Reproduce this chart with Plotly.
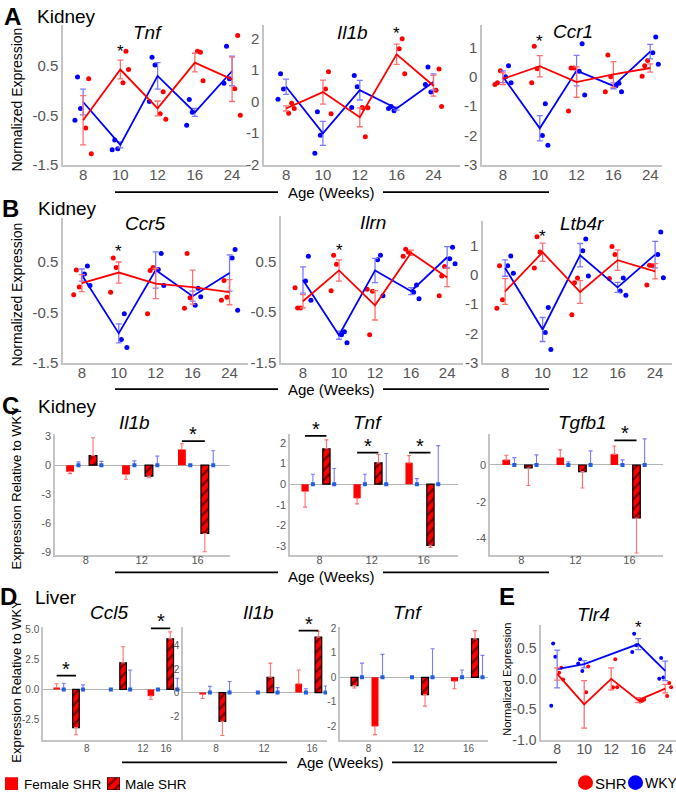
import plotly.graph_objects as go

W, H = 676, 800
RED = '#ff0000'
BLUE = '#0000ff'
RED_ERR = '#ff6f6f'
BLUE_ERR = '#7a7aff'
AXC = '#c4c4c4'
TICKC = '#555555'
FONT = 'Liberation Sans, Arial, sans-serif'

ages_line = ['8', '10', '12', '16', '24']
ages_bar = ['8', '12', '16']

# ---------------- Panel A (Kidney, normalized expression) ----------------
a_tnf_shr_mean = [-0.60, 0.43, -0.36, 0.57, 0.23]
a_tnf_shr_sem = [0.50, 0.19, 0.15, 0.19, 0.45]
a_tnf_wky_mean = [-0.23, -1.10, 0.30, -0.44, 0.40]
a_tnf_wky_sem = [0.26, 0.06, 0.27, 0.08, 0.30]
a_tnf_shr_pts = [[0.24, -0.76, -1.28], [0.80, 0.16, 0.43], [-0.02, -0.47, -0.58], [0.78, 0.80, 0.20], [1.12, 0.04, -0.50]]
a_tnf_wky_pts = [[0.28, -0.36, -0.60], [-1.00, -1.18, -1.20], [0.68, 0.52, -0.22], [-0.18, -0.44, -0.70], [0.90, 0.24, 0.15]]

a_il1b_shr_mean = [-0.22, 0.30, -0.50, 1.50, 0.50]
a_il1b_shr_sem = [0.08, 0.38, 0.30, 0.32, 0.33]
a_il1b_wky_mean = [0.47, -1.01, 0.36, -0.22, 0.62]
a_il1b_wky_sem = [0.24, 0.38, 0.31, 0.05, 0.26]
a_il1b_shr_pts = [[-0.05, -0.37, -0.22], [0.95, 0.40, -0.39], [-1.12, -0.19, -0.20], [1.99, 1.68, 0.88], [1.03, 0.36, -0.16]]
a_il1b_wky_pts = [[0.88, 0.40, 0.07], [-0.32, -1.07, -1.64], [0.83, 0.47, -0.19], [-0.16, -0.29, -0.22], [1.10, 0.30, 0.54]]

a_ccr1_shr_mean = [-0.07, 0.36, -0.18, 0.08, 0.30]
a_ccr1_shr_sem = [0.20, 0.36, 0.52, 0.44, 0.14]
a_ccr1_wky_mean = [0.00, -1.76, 0.21, -0.31, 0.86]
a_ccr1_wky_sem = [0.20, 0.43, 0.52, 0.10, 0.25]
a_ccr1_shr_pts = [[-0.20, 0.21, -0.26], [1.04, 0.27, -0.20], [0.30, 0.30, -1.17], [0.74, 0.00, -0.51], [0.38, 0.56, 0.02]]
a_ccr1_wky_pts = [[0.38, 0.00, -0.20], [-0.92, -2.01, -2.34], [1.13, 0.19, -0.62], [-0.22, -0.31, -0.51], [1.36, 0.82, 0.43]]

# ---------------- Panel B (Kidney, normalized expression) ----------------
b_ccr5_shr_mean = [0.08, 0.29, 0.07, 0.00, -0.10]
b_ccr5_shr_sem = [0.17, 0.21, 0.30, 0.34, 0.25]
b_ccr5_wky_mean = [0.24, -0.92, 0.34, -0.18, 0.28]
b_ccr5_wky_sem = [0.12, 0.19, 0.36, 0.10, 0.36]
b_ccr5_shr_pts = [[0.34, 0.00, -0.15], [0.58, 0.39, -0.10], [0.33, 0.39, -0.53], [0.67, -0.21, -0.42], [0.13, -0.20, -0.26]]
b_ccr5_wky_pts = [[0.42, 0.26, 0.03], [-0.53, -1.04, -1.20], [0.67, 0.35, 0.03], [-0.02, -0.36, -0.19], [0.75, 0.58, -0.46]]

b_ilrn_shr_mean = [-0.29, 0.32, -0.37, 0.67, 0.18]
b_ilrn_shr_sem = [0.13, 0.21, 0.29, 0.05, 0.18]
b_ilrn_wky_mean = [0.13, -0.96, 0.32, -0.09, 0.58]
b_ilrn_wky_sem = [0.26, 0.08, 0.24, 0.07, 0.21]
b_ilrn_shr_pts = [[-0.42, -0.42, -0.02], [0.62, 0.44, -0.08], [-0.95, -0.09, -0.05], [0.74, 0.68, 0.60], [0.21, 0.40, -0.18]]
b_ilrn_wky_pts = [[0.60, 0.11, -0.27], [-0.89, -0.95, -1.11], [0.62, 0.53, -0.18], [0.03, -0.11, -0.24], [0.78, 0.55, 0.45]]

b_ltb4r_shr_mean = [-0.57, 0.77, -0.59, 0.50, 0.12]
b_ltb4r_shr_sem = [0.44, 0.31, 0.39, 0.35, 0.26]
b_ltb4r_wky_mean = [0.23, -1.87, 0.67, -0.43, 0.69]
b_ltb4r_wky_sem = [0.28, 0.41, 0.40, 0.17, 0.45]
b_ltb4r_shr_pts = [[0.31, -0.85, -1.14], [1.30, 0.78, 0.23], [-0.27, -0.11, -1.37], [0.97, 0.69, -0.13], [0.33, 0.31, -0.35]]
b_ltb4r_wky_pts = [[0.64, 0.31, 0.05], [-1.12, -1.97, -2.55], [1.22, 0.82, -0.04], [-0.11, -0.55, -0.70], [1.46, 0.69, -0.10]]

# ---------------- Panel E (Liver Tlr4) ----------------
e_tlr4_shr_mean = [0.08, -0.42, 0.00, -0.35, -0.16]
e_tlr4_shr_sem = [0.10, 0.39, 0.18, 0.04, 0.07]
e_tlr4_wky_mean = [0.16, 0.24, None, 0.57, 0.13]
e_tlr4_wky_sem = [0.31, 0.06, None, 0.09, 0.16]
e_tlr4_shr_pts = [[0.18, 0.10, -0.01], [0.20, -0.22], [0.32, -0.14, -0.14], [-0.36, -0.37, -0.34], [-0.07, -0.28, -0.14]]
e_tlr4_wky_pts = [[0.58, 0.36, -0.44], [0.32, 0.13, 0.25], [], [0.74, 0.55, 0.44], [0.34, 0.02, 0.00]]

# ---------------- Panel C (Kidney, relative to WKY) ----------------
c_il1b_fshr = [-0.67, -0.96, 1.63]
c_il1b_fshr_err = [0.20, 0.50, 0.60]
c_il1b_mshr = [1.00, -1.13, -7.10]
c_il1b_mshr_err = [1.85, 0.18, 1.90]
c_il1b_fwky_err = [0.35, 0.45, 0.10]
c_il1b_mwky_err = [0.40, 0.95, 1.50]

c_tnf_fshr = [-0.35, -0.68, 1.03]
c_tnf_fshr_err = [0.76, 0.27, 0.35]
c_tnf_mshr = [1.71, 1.03, -2.95]
c_tnf_mshr_err = [0.43, 0.40, 0.10]
c_tnf_fwky_err = [0.48, 0.48, 0.27]
c_tnf_mwky_err = [0.76, 1.48, 1.86]

c_tgfb1_fshr = [0.28, 0.41, 0.59]
c_tgfb1_fshr_err = [0.25, 0.41, 0.44]
c_tgfb1_mshr = [-0.16, -0.36, -2.88]
c_tgfb1_mshr_err = [0.95, 0.89, 1.90]
c_tgfb1_fwky_err = [0.40, 0.18, 0.28]
c_tgfb1_mwky_err = [0.55, 0.77, 1.42]

# ---------------- Panel D (Liver, relative to WKY) ----------------
d_ccl5_fshr = [0.14, None, -0.55]
d_ccl5_fshr_err = [0.33, None, 0.27]
d_ccl5_mshr = [-3.18, 2.22, 4.22]
d_ccl5_mshr_err = [0.60, 1.34, 0.58]
d_ccl5_fwky_err = [0.52, 0.00, 0.05]
d_ccl5_mwky_err = [0.38, 1.62, 0.93]

d_il1b_fshr = [-0.14, None, 0.75]
d_il1b_fshr_err = [0.36, None, 1.17]
d_il1b_mshr = [-2.44, 1.30, 4.70]
d_il1b_mshr_err = [1.20, 1.20, 0.50]
d_il1b_fwky_err = [0.53, 0.00, 0.33]
d_il1b_mwky_err = [0.94, 0.42, 0.56]

d_tnf_fshr = [-2.01, None, -0.16]
d_tnf_fshr_err = [0.34, None, 0.31]
d_tnf_mshr = [-0.34, -0.71, 1.57]
d_tnf_mshr_err = [0.10, 0.47, 0.34]
d_tnf_fwky_err = [0.58, 0.00, 0.30]
d_tnf_mwky_err = [0.94, 1.17, 0.90]

wky_rel = [0.0, 0.0, 0.0]  # WKY is the reference (relative expression 0)

# ------------------------------------------------------------------------
fig = go.Figure()
layout = {}
annotations = []
shapes = []


def pxx(x):
    return x / W


def pxy(y):
    return 1 - y / H


def xdom(x0, x1):
    return [x0 / W, x1 / W]


def ydom(y0, y1):
    return [1 - y1 / H, 1 - y0 / H]


def names(i):
    s = '' if i == 1 else str(i)
    return 'x' + s, 'y' + s, 'xaxis' + s, 'yaxis' + s


def set_axes(i, xd, yd, xr, yr, xtv, xtt, ytv, ytt, xfs, yfs, zero=False, xstand=0):
    xa, ya, xn, yn = names(i)
    layout[xn] = dict(domain=xd, range=xr, anchor=ya, tickmode='array', tickvals=xtv, ticktext=xtt,
                      showline=True, linecolor=AXC, linewidth=1.5, showgrid=False, zeroline=False,
                      ticks='', ticklabelstandoff=xstand,
                      tickfont=dict(size=xfs, color=TICKC, family=FONT), fixedrange=True)
    layout[yn] = dict(domain=yd, range=yr, anchor=xa, tickmode='array', tickvals=ytv, ticktext=ytt,
                      showline=True, linecolor=AXC, linewidth=1.5, showgrid=False,
                      zeroline=zero, zerolinecolor='#b4b4b4', zerolinewidth=1.2,
                      ticks='', tickfont=dict(size=yfs, color=TICKC, family=FONT), fixedrange=True)


PT_OFF = [0.15, 0.07, 0.22]


def line_panel(i, shr_mean, shr_sem, wky_mean, wky_sem, shr_pts, wky_pts, red_side, msize=5):
    xa, ya, _, _ = names(i)
    for pts, col, side in [(wky_pts, BLUE, -red_side), (shr_pts, RED, red_side)]:
        xs, ys = [], []
        for k, vals in enumerate(pts):
            for j, v in enumerate(vals):
                xs.append(k + side * PT_OFF[j])
                ys.append(v)
        fig.add_trace(go.Scatter(x=xs, y=ys, mode='markers', xaxis=xa, yaxis=ya, showlegend=False,
                                 marker=dict(size=msize, color=col), hoverinfo='skip'))
    for mean, sem, col, ecol in [(wky_mean, wky_sem, BLUE, BLUE_ERR), (shr_mean, shr_sem, RED, RED_ERR)]:
        fig.add_trace(go.Scatter(x=list(range(len(mean))), y=mean, mode='lines', xaxis=xa, yaxis=ya,
                                 connectgaps=True, showlegend=False,
                                 line=dict(color=col, width=1.8),
                                 error_y=dict(type='data', array=sem, color=ecol, thickness=1.3, width=3)))


OFF = [-0.28, -0.13, 0.13, 0.28]
BW = 0.14
HATCH = dict(shape='/', fgcolor='black', bgcolor=RED, size=7, solidity=0.35)


def bar_panel(i, fshr, fshr_err, mshr, mshr_err, fwky_err, mwky_err, order=None):
    xa, ya, _, _ = names(i)
    if order is None:
        order = [[0, 1, 2, 3]] * 3

    def pos(s):
        return [g + OFF[order[g][s]] for g in range(3)]

    for s, vals, errs in [(0, fshr, fshr_err), (2, mshr, mshr_err)]:
        xs, ys, plus, minus = [], [], [], []
        for g, (v, e) in enumerate(zip(vals, errs)):
            if v is None:
                continue
            xs.append(pos(s)[g])
            ys.append(v)
            plus.append(e if v >= 0 else 0)
            minus.append(e if v < 0 else 0)
        if s == 0:
            marker = dict(color=RED, line=dict(width=0))
        else:
            marker = dict(color=RED, pattern=HATCH, line=dict(color='black', width=1.2))
        fig.add_trace(go.Bar(x=xs, y=ys, width=BW, xaxis=xa, yaxis=ya, showlegend=False, marker=marker,
                             error_y=dict(type='data', symmetric=False, array=plus, arrayminus=minus,
                                          color=RED_ERR, thickness=1.1, width=2)))
    for s, errs in [(1, fwky_err), (3, mwky_err)]:
        fig.add_trace(go.Scatter(x=pos(s), y=wky_rel, mode='markers', xaxis=xa, yaxis=ya, showlegend=False,
                                 marker=dict(size=4, color='#1f5fe0', symbol='square'),
                                 error_y=dict(type='data', symmetric=False, array=errs,
                                              arrayminus=[0] * 3, color=BLUE_ERR, thickness=1.1, width=2)))
    return pos


def sig_bar(i, pos, g, level):
    xa, ya, _, _ = names(i)
    x0, x1 = pos(0)[g], pos(2)[g]
    shapes.append(dict(type='line', xref=xa, yref=ya, x0=x0, x1=x1, y0=level, y1=level,
                       line=dict(color='black', width=1.8)))
    annotations.append(dict(xref=xa, yref=ya, x=(x0 + x1) / 2, y=level, text='*', showarrow=False,
                            yanchor='bottom', yshift=-6, font=dict(size=20, color='black', family=FONT)))


def star(i, xcat, y):
    xa, ya, _, _ = names(i)
    annotations.append(dict(xref=xa, yref=ya, x=xcat, y=y, text='*', showarrow=False,
                            font=dict(size=17, color='black', family=FONT), yshift=-3))


def text(x, y, t, size, bold=False, italic=False, color='black', angle=0, xanchor='center'):
    if bold:
        t = '<b>' + t + '</b>'
    if italic:
        t = '<i>' + t + '</i>'
    annotations.append(dict(xref='paper', yref='paper', x=pxx(x), y=pxy(y), text=t, showarrow=False,
                            xanchor=xanchor, yanchor='middle', textangle=angle,
                            font=dict(size=size, color=color, family=FONT)))


def age_label(y, xl0, xl1, xr0, xr1, xt, ty=None):
    shapes.append(dict(type='line', xref='paper', yref='paper', x0=pxx(xl0), x1=pxx(xl1), y0=pxy(y), y1=pxy(y),
                       line=dict(color='black', width=1.8)))
    shapes.append(dict(type='line', xref='paper', yref='paper', x0=pxx(xr0), x1=pxx(xr1), y0=pxy(y), y1=pxy(y),
                       line=dict(color='black', width=1.8)))
    text(xt, y if ty is None else ty, 'Age (Weeks)', 15)


L5 = list(range(5))

# ---- Row A ----
set_axes(1, xdom(63, 247), ydom(21, 163), [-0.54, 4.4], [-1.5, 1.34], L5, ages_line,
         [0.5, -0.5, -1.5], ['0.5', '-0.5', '-1.5'], 15, 15, xstand=-4)
line_panel(1, a_tnf_shr_mean, a_tnf_shr_sem, a_tnf_wky_mean, a_tnf_wky_sem, a_tnf_shr_pts, a_tnf_wky_pts, 1)
star(1, 1, 0.86)

set_axes(2, xdom(264, 460), ydom(21, 163), [-0.6, 4.72], [-2, 2.44], L5, ages_line,
         [2, 1, 0, -1, -2], ['2', '1', '0', '-1', '-2'], 15, 15, xstand=-4)
line_panel(2, a_il1b_shr_mean, a_il1b_shr_sem, a_il1b_wky_mean, a_il1b_wky_sem, a_il1b_shr_pts, a_il1b_wky_pts, 1)
star(2, 3, 2.25)

set_axes(3, xdom(482, 662), ydom(21, 163), [-0.57, 4.32], [-3, 1.78], L5, ages_line,
         [1, 0, -1, -2, -3], ['1', '0', '-1', '-2', '-3'], 15, 15, xstand=-4)
line_panel(3, a_ccr1_shr_mean, a_ccr1_shr_sem, a_ccr1_wky_mean, a_ccr1_wky_sem, a_ccr1_shr_pts, a_ccr1_wky_pts, -1)
star(3, 1, 1.31)

# ---- Row B ----
set_axes(4, xdom(63, 248), ydom(217, 364), [-0.51, 4.5], [-1.5, 1.38], L5, ages_line,
         [0.5, -0.5, -1.5], ['0.5', '-0.5', '-1.5'], 15, 15, xstand=-4)
line_panel(4, b_ccr5_shr_mean, b_ccr5_shr_sem, b_ccr5_wky_mean, b_ccr5_wky_sem, b_ccr5_shr_pts, b_ccr5_wky_pts, -1)
star(4, 1, 0.77)

set_axes(5, xdom(281, 463), ydom(215, 364), [-0.61, 4.44], [-1.5, 1.4], L5, ages_line,
         [0.5, -0.5, -1.5], ['0.5', '-0.5', '-1.5'], 15, 15, xstand=-4)
line_panel(5, b_ilrn_shr_mean, b_ilrn_shr_sem, b_ilrn_wky_mean, b_ilrn_wky_sem, b_ilrn_shr_pts, b_ilrn_wky_pts, -1)
star(5, 1, 0.77)

set_axes(6, xdom(483, 672), ydom(220, 364), [-0.59, 4.45], [-3, 1.85], L5, ages_line,
         [1, 0, -1, -2, -3], ['1', '0', '-1', '-2', '-3'], 15, 15, xstand=-4)
line_panel(6, b_ltb4r_shr_mean, b_ltb4r_shr_sem, b_ltb4r_wky_mean, b_ltb4r_wky_sem, b_ltb4r_shr_pts, b_ltb4r_wky_pts, -1)
star(6, 1, 1.4)

# ---- Row C ----
L3 = [0, 1, 2]
set_axes(7, xdom(55, 230), ydom(437, 559), [-0.55, 2.58], [-9.3, 3.2], L3, ages_bar,
         [3, 0, -3, -6, -9], ['3', '0', '-3', '-6', '-9'], 11, 11, zero=True, xstand=-6)
p7 = bar_panel(7, c_il1b_fshr, c_il1b_fshr_err, c_il1b_mshr, c_il1b_mshr_err, c_il1b_fwky_err, c_il1b_mwky_err)
sig_bar(7, p7, 2, 2.5)

set_axes(8, xdom(290, 458), ydom(437, 559), [-0.57, 2.66], [-3.4, 2.4], L3, ages_bar,
         [2, 1, 0, -1, -2, -3], ['2', '1', '0', '-1', '-2', '-3'], 11, 11, zero=True, xstand=-6)
p8 = bar_panel(8, c_tnf_fshr, c_tnf_fshr_err, c_tnf_mshr, c_tnf_mshr_err, c_tnf_fwky_err, c_tnf_mwky_err)
sig_bar(8, p8, 0, 2.33)
sig_bar(8, p8, 1, 1.52)
sig_bar(8, p8, 2, 1.52)

set_axes(9, xdom(490, 663), ydom(437, 559), [-0.58, 2.62], [-4.87, 1.66], L3, ages_bar,
         [0, -2, -4], ['0', '-2', '-4'], 11, 11, zero=True, xstand=-6)
p9 = bar_panel(9, c_tgfb1_fshr, c_tgfb1_fshr_err, c_tgfb1_mshr, c_tgfb1_mshr_err, c_tgfb1_fwky_err, c_tgfb1_mwky_err)
sig_bar(9, p9, 2, 1.34)

# ---- Row D ----
set_axes(10, xdom(43, 182), ydom(632, 747), [-0.57, 2.38], [-4.2, 5.25], [0.36, 1.55, 2.04], ages_bar,
         [5, 2.5, 0, -2.5], ['5.0', '2.5', '0.0', '-2.5'], 10, 10, zero=True, xstand=-2)
p10 = bar_panel(10, d_ccl5_fshr, d_ccl5_fshr_err, d_ccl5_mshr, d_ccl5_mshr_err, d_ccl5_fwky_err, d_ccl5_mwky_err)
sig_bar(10, p10, 0, 1.15)
sig_bar(10, p10, 2, 5.1)

set_axes(11, xdom(183, 327), ydom(632, 747), [-0.69, 2.31], [-4.0, 5.6], L3, ages_bar,
         [4, 2, 0, -2], ['4', '2', '0', '-2'], 10, 10, zero=True, xstand=-2)
p11 = bar_panel(11, d_il1b_fshr, d_il1b_fshr_err, d_il1b_mshr, d_il1b_mshr_err, d_il1b_fwky_err, d_il1b_mwky_err)
sig_bar(11, p11, 2, 5.25)

set_axes(12, xdom(340, 488), ydom(632, 747), [-0.57, 2.39], [-2.56, 2.08], L3, ages_bar,
         [2, 1, 0, -1, -2], ['2', '1', '0', '-1', '-2'], 10, 10, zero=True, xstand=-2)
p12 = bar_panel(12, d_tnf_fshr, d_tnf_fshr_err, d_tnf_mshr, d_tnf_mshr_err, d_tnf_fwky_err, d_tnf_mwky_err,
                order=[[2, 1, 0, 3], [0, 1, 2, 3], [0, 1, 2, 3]])
sig_bar(12, p12, 2, 2.16)

# ---- Panel E ----
set_axes(13, xdom(541, 676), ydom(630, 747), [-0.6, 4.4], [-1.0, 0.89], L5, ages_line,
         [0.5, 0.0, -0.5, -1.0], ['0.5', '0.0', '-0.5', '-1.0'], 14, 14, xstand=-4)
line_panel(13, e_tlr4_shr_mean, e_tlr4_shr_sem, e_tlr4_wky_mean, e_tlr4_wky_sem, e_tlr4_shr_pts, e_tlr4_wky_pts, 1, msize=4)
star(13, 3, 0.89)

# ---- Legend swatch for hatched bar (mini axis) ----
legend_swatch = [1]
layout['xaxis14'] = dict(domain=xdom(107, 120), range=[-0.5, 0.5], anchor='y14', visible=False, fixedrange=True)
layout['yaxis14'] = dict(domain=ydom(785, 798), range=[0, 1], anchor='x14', visible=False, fixedrange=True)
fig.add_trace(go.Bar(x=[0], y=legend_swatch, width=1, xaxis='x14', yaxis='y14', showlegend=False,
                     marker=dict(color=RED, pattern=HATCH, line=dict(color='black', width=1))))

# ---- Text ----
text(12, 13, 'A', 24, bold=True)
text(66, 13, 'Kidney', 19)
text(10, 208, 'B', 24, bold=True)
text(67, 208, 'Kidney', 19)
text(10, 408, 'C', 24, bold=True)
text(67, 409, 'Kidney', 19)
text(8, 602, 'D', 24, bold=True)
text(56, 603, 'Liver', 19)
text(507, 602, 'E', 24, bold=True)

for x, y, t in [(147, 29, 'Tnf'), (353, 29, 'Il1b'), (573, 28, 'Ccr1'),
                (145, 223, 'Ccr5'), (373, 222, 'Ilrn'), (582, 223, 'Ltb4r'),
                (134, 425, 'Il1b'), (367, 425, 'Tnf'), (582, 425, 'Tgfb1'),
                (109, 618, 'Ccl5'), (258, 618, 'Il1b'), (407, 618, 'Tnf'), (593, 620, 'Tlr4')]:
    text(x, y, t, 19, italic=True)

text(17, 97, 'Normalized Expression', 14, angle=-90)
text(17, 295, 'Normalized Expression', 14, angle=-90)
text(17, 492, 'Expression Relative to WKY', 13, angle=-90)
text(17, 688, 'Expression Relative to WKY', 13, angle=-90)
text(507, 686, 'Normalized Expression', 11, angle=-90)

age_label(191, 115, 278, 383, 549, 331)
age_label(391, 115, 278, 383, 549, 331)
age_label(577, 115, 278, 383, 549, 331, ty=581)
age_label(770, 122, 287, 392, 557, 340)

# ---- Bottom legends ----
shapes.append(dict(type='rect', xref='paper', yref='paper', x0=pxx(5), x1=pxx(18), y0=pxy(798), y1=pxy(785),
                   fillcolor=RED, line=dict(width=0)))
text(22, 792, 'Female SHR', 13.5, xanchor='left')
text(123, 792, 'Male SHR', 13.5, xanchor='left')
shapes.append(dict(type='circle', xref='paper', yref='paper', x0=pxx(578), x1=pxx(593), y0=pxy(798), y1=pxy(783),
                   fillcolor=RED, line=dict(width=0)))
text(593, 791, 'SHR', 15, xanchor='left')
shapes.append(dict(type='circle', xref='paper', yref='paper', x0=pxx(628), x1=pxx(643), y0=pxy(798), y1=pxy(783),
                   fillcolor=BLUE, line=dict(width=0)))
text(643, 791, 'WKY', 14, xanchor='left')

layout.update(dict(width=W, height=H, margin=dict(l=0, r=0, t=0, b=0), paper_bgcolor='white',
                   plot_bgcolor='white', showlegend=False, annotations=annotations, shapes=shapes,
                   font=dict(family=FONT), barmode='overlay'))
fig.update_layout(**layout)
fig.write_html('out.html', config={'displayModeBar': False},
               post_script="document.body.style.margin='0px';")
